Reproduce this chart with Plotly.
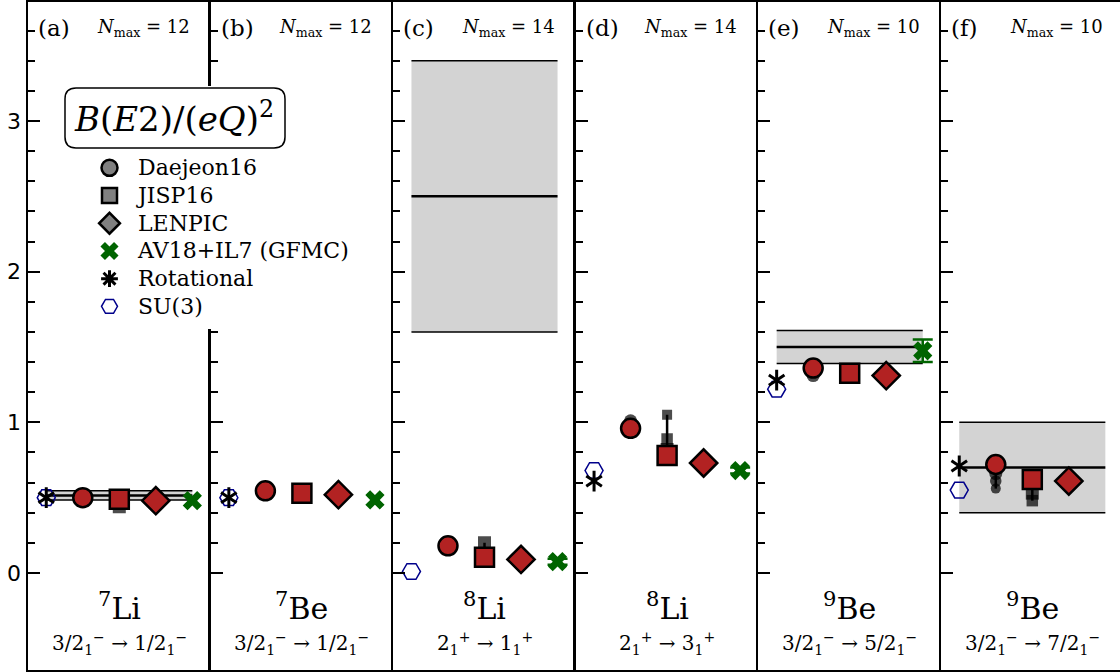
import plotly.graph_objects as go

# ---------------- data ----------------
panel_ids = ["(a)", "(b)", "(c)", "(d)", "(e)", "(f)"]
nmax_values = [12, 12, 14, 14, 10, 10]
nuclei = ["<sup>7</sup>Li", "<sup>7</sup>Be", "<sup>8</sup>Li",
          "<sup>8</sup>Li", "<sup>9</sup>Be", "<sup>9</sup>Be"]
transitions = [
    "3/2<sub>1</sub><sup>−</sup> → 1/2<sub>1</sub><sup>−</sup>",
    "3/2<sub>1</sub><sup>−</sup> → 1/2<sub>1</sub><sup>−</sup>",
    "2<sub>1</sub><sup>+</sup> → 1<sub>1</sub><sup>+</sup>",
    "2<sub>1</sub><sup>+</sup> → 3<sub>1</sub><sup>+</sup>",
    "3/2<sub>1</sub><sup>−</sup> → 5/2<sub>1</sub><sup>−</sup>",
    "3/2<sub>1</sub><sup>−</sup> → 7/2<sub>1</sub><sup>−</sup>",
]
categories = ["model", "Daejeon16", "JISP16", "LENPIC", "GFMC"]

exp_center = [0.515, None, 2.50, None, 1.50, 0.70]
exp_low = [0.485, None, 1.60, None, 1.39, 0.40]
exp_high = [0.545, None, 3.40, None, 1.61, 1.00]

su3 = [0.50, 0.50, 0.01, 0.68, 1.22, 0.55]
rotational = [0.50, 0.50, None, 0.61, 1.28, 0.71]

# sequences in increasing Nmax; last value = highest Nmax shown
daejeon16 = [[0.48, 0.50], [0.545], [0.18], [1.01, 0.96], [1.31, 1.36],
             [0.56, 0.61, 0.66, 0.72]]
jisp16 = [[0.44, 0.49], [0.53], [0.20, 0.105], [1.05, 0.89, 0.82, 0.78],
          [1.325], [0.48, 0.53, 0.62]]
lenpic = [[0.48], [0.52], [0.09], [0.73], [1.31], [0.61]]
gfmc = [0.48, 0.485, 0.075, 0.68, 1.475, None]
gfmc_err = [0.0, 0.0, 0.02, 0.02, 0.075, None]

tick_major = [0, 1, 2, 3]
tick_minor = [0.2, 0.4, 0.6, 0.8, 1.2, 1.4, 1.6, 1.8, 2.2, 2.4, 2.6, 2.8,
              3.2, 3.4, 3.6]

legend_names = ["Daejeon16", "JISP16", "LENPIC", "AV18+IL7 (GFMC)",
                "Rotational", "SU(3)"]

# ---------------- layout constants ----------------
W, H = 1120, 672
L, R, T, B = 28, 0, 2, 2
PW = W - L - R
PH = H - T - B
PANEL_W = 182.6
edges = [L + i * PANEL_W for i in range(7)]
y_range = [-0.644, 3.79]

RED = "#b22222"
GREY = "#808080"
GREEN = "#006400"
BLUE = "#00008b"
SERIF = "DejaVu Serif"


def pxx(px):
    return (px - L) / PW


def pxy(py):
    return (H - B - py) / PH


fig = go.Figure()
layout_axes = {}

for i in range(6):
    n = "" if i == 0 else str(i + 1)
    xref, yref = "x" + n, "y" + n
    x0 = pxx(edges[i])
    x1 = min(1.0, pxx(edges[i + 1]))
    frac = (x1 - x0) * PW / PANEL_W
    layout_axes["xaxis" + n] = dict(
        domain=[x0, x1], anchor=yref, type="category",
        categoryorder="array", categoryarray=categories,
        range=[-0.5, -0.5 + 5 * frac], automargin=False,
        showline=True, mirror=True, linewidth=2.5, linecolor="black",
        showticklabels=False, ticks="", showgrid=False, zeroline=False,
    )
    layout_axes["yaxis" + n] = dict(
        domain=[0, 1], anchor=xref, range=y_range, automargin=False,
        side="left",
        showline=True, mirror=False, linewidth=2.5, linecolor="black",
        ticks="inside", ticklen=12, tickwidth=2, tickcolor="black",
        tickvals=tick_major, ticktext=[str(t) for t in tick_major],
        showticklabels=(i == 0),
        tickfont=dict(family="DejaVu Sans", size=22, color="black"),
        minor=dict(tickvals=tick_minor, ticks="inside", ticklen=7,
                   tickwidth=2, tickcolor="black"),
        showgrid=False, zeroline=False,
    )
    if i > 0:
        layout_axes["yaxis" + n]["matches"] = "y"

    common = dict(xaxis=xref, yaxis=yref, showlegend=False, hoverinfo="skip")

    # experimental band
    if exp_center[i] is not None:
        bx = [categories[0], categories[-1]]
        fig.add_trace(go.Scatter(x=bx, y=[exp_low[i]] * 2, mode="lines",
                                 line=dict(color="black", width=1.5), **common))
        fig.add_trace(go.Scatter(x=bx, y=[exp_high[i]] * 2, mode="lines",
                                 fill="tonexty", fillcolor="#d3d3d3",
                                 line=dict(color="black", width=1.5), **common))
        fig.add_trace(go.Scatter(x=bx, y=[exp_center[i]] * 2, mode="lines",
                                 line=dict(color="black", width=2.5), **common))

    # SU(3)
    fig.add_trace(go.Scatter(
        x=[categories[0]], y=[su3[i]], mode="markers",
        marker=dict(symbol="hexagon2-open", size=18, color=BLUE,
                    line=dict(color=BLUE, width=1.5)), **common))
    # Rotational (six-arm asterisk)
    if rotational[i] is not None:
        for sym in ["y-up-open", "y-down-open"]:
            fig.add_trace(go.Scatter(
                x=[categories[0]], y=[rotational[i]], mode="markers",
                marker=dict(symbol=sym, size=13, color="black",
                            line=dict(color="black", width=3)), **common))

    # convergence tails (lower Nmax) in black
    for cat, seqs, sym in [("Daejeon16", daejeon16, "circle"),
                           ("JISP16", jisp16, "square"),
                           ("LENPIC", lenpic, "diamond")]:
        seq = seqs[i]
        if len(seq) > 1:
            m = len(seq) - 1
            sizes = [13 - 1.5 * (m - 1 - k) for k in range(m)] + [13]
            fig.add_trace(go.Scatter(
                x=[cat] * len(seq), y=seq, mode="lines+markers",
                line=dict(color="black", width=2.5),
                marker=dict(symbol=sym, size=sizes, color="black",
                            line=dict(width=0)), **common))

    # highest Nmax in red
    for cat, seqs, sym, size in [("Daejeon16", daejeon16, "circle", 19),
                                 ("JISP16", jisp16, "square", 19),
                                 ("LENPIC", lenpic, "diamond", 21)]:
        fig.add_trace(go.Scatter(
            x=[cat], y=[seqs[i][-1]], mode="markers",
            marker=dict(symbol=sym, size=size, color=RED,
                        line=dict(color="black", width=2.5)), **common))

    # GFMC
    if gfmc[i] is not None:
        kw = {}
        if gfmc_err[i]:
            kw["error_y"] = dict(type="data", array=[gfmc_err[i]], color=GREEN,
                                 thickness=2.5, width=10)
        fig.add_trace(go.Scatter(
            x=["GFMC"], y=[gfmc[i]], mode="markers",
            marker=dict(symbol="x", size=17, color=GREEN, line=dict(width=0)),
            **kw, **common))

# legend-only entries (generic grey styling as in the reference legend)
legend_markers = [
    dict(symbol="circle", size=16, color=GREY,
         line=dict(color="black", width=2.5)),
    dict(symbol="square", size=15, color=GREY,
         line=dict(color="black", width=2.5)),
    dict(symbol="diamond", size=16, color=GREY,
         line=dict(color="black", width=2.5)),
    dict(symbol="x", size=16, color=GREEN, line=dict(width=0)),
    dict(symbol="asterisk-open", size=14, color="black",
         line=dict(color="black", width=3)),
    dict(symbol="hexagon2-open", size=16, color=BLUE,
         line=dict(color=BLUE, width=1.5)),
]
for name, mk in zip(legend_names, legend_markers):
    fig.add_trace(go.Scatter(
        x=[None], y=[None], mode="markers",
        name='<span style="font-size:22px">%s</span>' % name,
        marker=mk, xaxis="x", yaxis="y", showlegend=True))

# ---------------- annotations ----------------
annotations = []
for i in range(6):
    annotations.append(dict(
        x=pxx(edges[i] + 8), y=pxy(28), xref="paper", yref="paper",
        text=panel_ids[i], showarrow=False, xanchor="left", yanchor="middle",
        font=dict(family=SERIF, size=23, color="black")))
    annotations.append(dict(
        x=pxx(edges[i] + 115), y=pxy(28), xref="paper", yref="paper",
        text="<i>N</i><sub>max</sub> = %d" % nmax_values[i], showarrow=False,
        xanchor="center", yanchor="middle",
        font=dict(family=SERIF, size=18, color="black")))
    annotations.append(dict(
        x=pxx(edges[i] + PANEL_W / 2), y=pxy(606), xref="paper", yref="paper",
        text=nuclei[i], showarrow=False, xanchor="center", yanchor="middle",
        font=dict(family=SERIF, size=30, color="black")))
    annotations.append(dict(
        x=pxx(edges[i] + PANEL_W / 2), y=pxy(643), xref="paper", yref="paper",
        text=transitions[i], showarrow=False, xanchor="center",
        yanchor="middle", font=dict(family=SERIF, size=20, color="black")))

annotations.append(dict(
    x=pxx(174), y=pxy(117), xref="paper", yref="paper",
    text="<i>B</i>(<i>E</i>2)/(<i>eQ</i>)<sup>2</sup>", showarrow=False,
    xanchor="center", yanchor="middle",
    font=dict(family=SERIF, size=34, color="black")))


def rounded_rect(x0p, y0p, x1p, y1p, r):
    def P(px, py):
        return "%.5f,%.5f" % (pxx(px), pxy(py))
    path = "M " + P(x0p + r, y0p)
    path += " L " + P(x1p - r, y0p)
    path += " Q " + P(x1p, y0p) + " " + P(x1p, y0p + r)
    path += " L " + P(x1p, y1p - r)
    path += " Q " + P(x1p, y1p) + " " + P(x1p - r, y1p)
    path += " L " + P(x0p + r, y1p)
    path += " Q " + P(x0p, y1p) + " " + P(x0p, y1p - r)
    path += " L " + P(x0p, y0p + r)
    path += " Q " + P(x0p, y0p) + " " + P(x0p + r, y0p) + " Z"
    return path


shapes = [
    dict(type="rect", xref="paper", yref="paper", layer="above",
         x0=pxx(62), x1=pxx(232), y0=pxy(329), y1=pxy(86),
         fillcolor="white", line=dict(width=0)),
    dict(type="path", xref="paper", yref="paper", layer="above",
         path=rounded_rect(65, 88, 285, 148, 11),
         fillcolor="white", line=dict(color="black", width=1.5)),
]

fig.update_layout(
    width=W, height=H,
    margin=dict(l=L, r=R, t=T, b=B, autoexpand=False),
    paper_bgcolor="white", plot_bgcolor="white",
    font=dict(family=SERIF, color="black"),
    showlegend=True,
    legend=dict(x=pxx(81), y=pxy(149), xanchor="left", yanchor="top",
                bgcolor="rgba(0,0,0,0)", borderwidth=0, itemwidth=47,
                font=dict(family=SERIF, size=19, color="black"),
                traceorder="normal"),
    annotations=annotations,
    shapes=shapes,
    **layout_axes,
)

fig.write_html("out.html",
               config={"displayModeBar": False, "staticPlot": True},
               post_script="document.body.style.margin='0';"
                           "document.body.style.overflow='hidden';")
